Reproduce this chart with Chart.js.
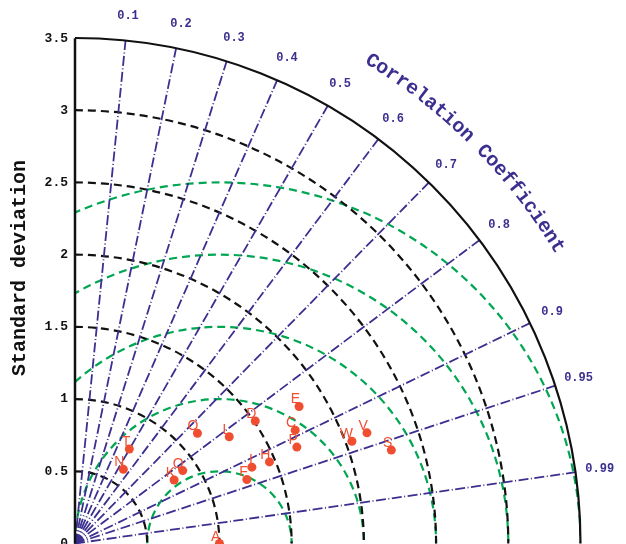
<!DOCTYPE html>
<html>
<head>
<meta charset="utf-8">
<script src="https://cdn.jsdelivr.net/npm/chart.js@4/dist/chart.umd.min.js"></script>
<style>
html,body{margin:0;padding:0;overflow:hidden;background:#fff;}
canvas{display:block;}
</style>
</head>
<body>
<canvas id="c" width="626" height="570" style="width:626px;height:570px"></canvas>
<script>
// ---- data ----
const pointLabels = ['A','C','D','E','F','H','I','K','L','N','O','P','Q','S','T','V','W'];
const stdDev      = [1.00,1.715,1.509,1.819,1.270,1.460,1.334,0.815,1.299,0.613,1.141,1.675,0.901,2.284,0.755,2.162,2.044];
const corrCoef    = [1.000,0.889,0.827,0.853,0.937,0.922,0.918,0.842,0.822,0.546,0.743,0.917,0.828,0.959,0.498,0.935,0.938];
const stdTicks    = [0,0.5,1,1.5,2,2.5,3,3.5];
const stdArcs     = [0.5,1,1.5,2,2.5,3];
const rmsArcs     = [0.5,1,1.5,2,2.5];
const corrTicks   = [0.1,0.2,0.3,0.4,0.5,0.6,0.7,0.8,0.9,0.95,0.99];
const refStd      = 1.0;
const maxStd      = 3.5;

const NAVY = '#3b2f8f', GREEN = '#00a651', RED = 'rgb(240,78,48)';
const MONO = '"Liberation Mono","DejaVu Sans Mono",monospace';

const pts = stdDev.map((s,i)=>({x:s*corrCoef[i], y:s*Math.sqrt(1-corrCoef[i]*corrCoef[i])}));

const taylor = {
  id:'taylor',
  beforeDatasetsDraw(chart){
    const ctx = chart.ctx, xs = chart.scales.x, ys = chart.scales.y;
    const ox = xs.getPixelForValue(0), oy = ys.getPixelForValue(0);
    const k = xs.getPixelForValue(1) - ox;
    ctx.save();
    // clip to quarter disc
    ctx.save();
    ctx.beginPath();
    ctx.moveTo(ox,oy);
    ctx.arc(ox,oy,maxStd*k,1.5*Math.PI,2*Math.PI,false);
    ctx.closePath();
    ctx.clip();
    // green RMS arcs
    ctx.strokeStyle = GREEN; ctx.lineWidth = 2.2; ctx.setLineDash([8,5]);
    rmsArcs.forEach(r=>{
      ctx.beginPath();
      ctx.arc(xs.getPixelForValue(refStd), oy, r*k, Math.PI, 2*Math.PI, false);
      ctx.stroke();
    });
    ctx.restore();
    // black std arcs
    ctx.strokeStyle = '#111'; ctx.lineWidth = 2.2; ctx.setLineDash([8,5]);
    stdArcs.forEach(r=>{
      ctx.beginPath();
      ctx.arc(ox, oy, r*k, 1.5*Math.PI, 2*Math.PI, false);
      ctx.stroke();
    });
    // correlation lines
    ctx.strokeStyle = NAVY; ctx.lineWidth = 1.8; ctx.setLineDash([10,2.5,1,2.5]);
    corrTicks.forEach(c=>{
      const th = Math.acos(c);
      ctx.beginPath();
      ctx.moveTo(ox,oy);
      ctx.lineTo(ox+maxStd*k*Math.cos(th), oy-maxStd*k*Math.sin(th));
      ctx.stroke();
    });
    ctx.setLineDash([]);
    // outer arc
    ctx.strokeStyle = '#111'; ctx.lineWidth = 2.2;
    ctx.beginPath();
    ctx.arc(ox, oy, maxStd*k, 1.5*Math.PI, 2*Math.PI, false);
    ctx.stroke();
    // y axis
    ctx.lineWidth = 2.5;
    ctx.beginPath();
    ctx.moveTo(ox, oy); ctx.lineTo(ox, ys.getPixelForValue(maxStd));
    ctx.stroke();
    // y tick labels
    ctx.fillStyle = '#111';
    ctx.font = 'bold 13px '+MONO;
    ctx.textAlign = 'right'; ctx.textBaseline = 'middle';
    stdTicks.forEach(t=>{
      ctx.fillText(String(t), ox-7, ys.getPixelForValue(t));
    });
    // y title
    ctx.save();
    ctx.translate(20, 268);
    ctx.rotate(-Math.PI/2);
    ctx.textAlign = 'center'; ctx.textBaseline = 'middle';
    ctx.font = 'bold 20px '+MONO;
    ctx.fillText('Standard deviation', 0, 0);
    ctx.restore();
    // correlation labels
    ctx.fillStyle = NAVY;
    ctx.font = 'bold 12px '+MONO;
    ctx.textAlign = 'center'; ctx.textBaseline = 'middle';
    corrTicks.forEach(c=>{
      const th = Math.acos(c), R = 3.67*k;
      ctx.fillText(String(c), ox+R*Math.cos(th), oy-R*Math.sin(th));
    });
    // curved title
    const title = 'Correlation Coefficient';
    ctx.font = 'bold 20px '+MONO;
    const R = 3.92*k;
    const W = ctx.measureText(title).width;
    const mid = Math.PI/4;
    let s = 0;
    for (const ch of title){
      const w = ctx.measureText(ch).width;
      const th = mid + (W/2 - (s + w/2))/R;
      ctx.save();
      ctx.translate(ox+R*Math.cos(th), oy-R*Math.sin(th));
      ctx.rotate(Math.PI/2 - th);
      ctx.fillText(ch, 0, 0);
      ctx.restore();
      s += w;
    }
    ctx.restore();
  },
  afterDatasetsDraw(chart){
    const ctx = chart.ctx;
    const meta = chart.getDatasetMeta(0);
    ctx.save();
    ctx.fillStyle = RED;
    ctx.font = '14px "Liberation Sans",Arial,sans-serif';
    ctx.textAlign = 'right'; ctx.textBaseline = 'alphabetic';
    meta.data.forEach((el,i)=>{
      ctx.fillText(pointLabels[i], el.x+1, el.y-3);
    });
    ctx.restore();
  }
};

new Chart(document.getElementById('c'), {
  type:'scatter',
  data:{datasets:[{data:pts, backgroundColor:RED, borderWidth:0, pointRadius:4.5, pointHoverRadius:4.5, clip:false}]},
  options:{
    responsive:false, animation:false,
    layout:{padding:{left:75, top:38.3, right:45.5, bottom:26.5}},
    plugins:{legend:{display:false}, tooltip:{enabled:false}},
    scales:{
      x:{type:'linear', min:0, max:maxStd, display:false},
      y:{type:'linear', min:0, max:maxStd, display:false}
    }
  },
  plugins:[taylor]
});
</script>
</body>
</html>
